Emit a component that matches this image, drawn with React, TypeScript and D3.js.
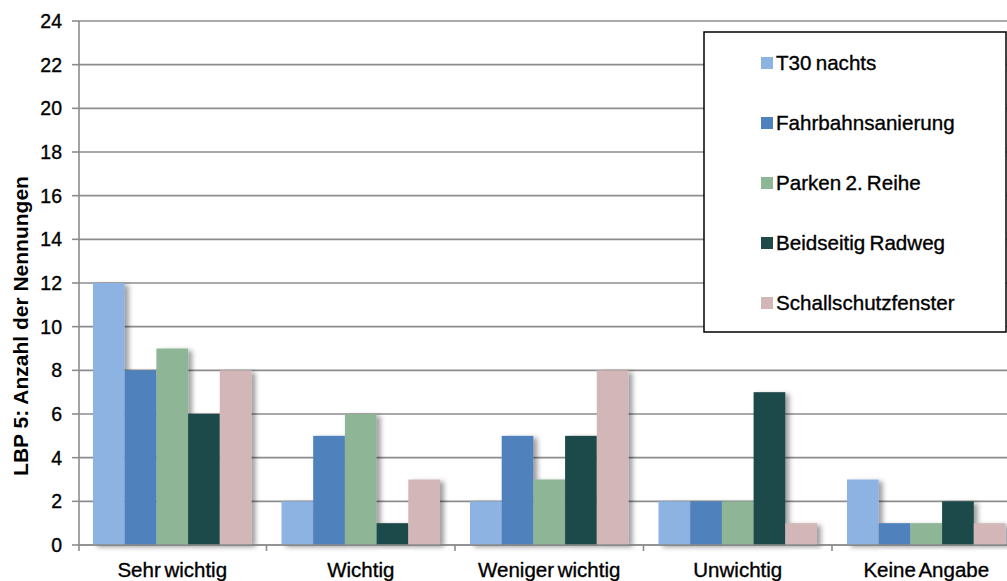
import React from "react";
import * as d3 from "d3";

const categories = ["Sehr wichtig", "Wichtig", "Weniger wichtig", "Unwichtig", "Keine Angabe"];
const seriesNames = ["T30 nachts", "Fahrbahnsanierung", "Parken 2. Reihe", "Beidseitig Radweg", "Schallschutzfenster"];
const seriesColors = ["#8db3e2", "#4f81bd", "#8db596", "#1f4a48", "#d3b6b7"];
const t30 = [12, 2, 2, 2, 3];
const fahrbahn = [8, 5, 5, 2, 1];
const parken = [9, 6, 3, 2, 1];
const radweg = [6, 1, 5, 7, 2];
const schall = [8, 3, 8, 1, 1];
const seriesValues = [t30, fahrbahn, parken, radweg, schall];
const yTicks = [0, 2, 4, 6, 8, 10, 12, 14, 16, 18, 20, 22, 24];
const yTitle = "LBP 5: Anzahl der Nennungen";

const W = 1007;
const H = 581;
const left = 78;
const band = 188.5;
const top = 21;
const bottom = 545;

export default function App() {
  const x = d3.scaleBand<string>().domain(categories).range([left, left + band * categories.length]).padding(0);
  const xi = d3.scaleBand<string>().domain(seriesNames).range([15, x.bandwidth() - 15]).padding(0);
  const y = d3.scaleLinear().domain([0, 24]).range([bottom, top]);
  const font = "'Liberation Sans', Arial, sans-serif";
  const heavy = { stroke: "#000", strokeWidth: 0.35 };

  return (
    <svg width={W} height={H} style={{ position: "absolute", left: 0, top: 0, background: "#fff" }} fontFamily={font}>
      <defs>
        <filter id="sh" x="-20%" y="-10%" width="160%" height="130%">
          <feDropShadow dx="4" dy="2" stdDeviation="2.5" floodColor="#000" floodOpacity="0.38" />
        </filter>
      </defs>
      {yTicks.map((t) => (
        <line key={"g" + t} x1={left + 1} x2={W} y1={y(t)} y2={y(t)} stroke="#8c8c8c" strokeWidth={1.6} />
      ))}
      {yTicks.map((t) => (
        <g key={"t" + t}>
          <line x1={72} x2={79} y1={y(t)} y2={y(t)} stroke="#8c8c8c" strokeWidth={1.6} />
          <text x={62} y={y(t) + 7} textAnchor="end" fontSize={19.5} fill="#000" {...heavy}>
            {t}
          </text>
        </g>
      ))}
      {seriesValues.map((vals, si) =>
        vals.map((v, ci) => (
          <rect
            key={si + "-" + ci}
            x={(x(categories[ci]) as number) + (xi(seriesNames[si]) as number)}
            y={y(v)}
            width={xi.bandwidth()}
            height={y(0) - y(v)}
            fill={seriesColors[si]}
            filter="url(#sh)"
          />
        ))
      )}
      <line x1={79} x2={79} y1={top} y2={bottom + 6} stroke="#8c8c8c" strokeWidth={1.6} />
      <line x1={left} x2={W} y1={bottom} y2={bottom} stroke="#8c8c8c" strokeWidth={1.6} />
      {categories.map((c, i) =>
        i > 0 ? (
          <line key={"xt" + c} x1={x(c) as number} x2={x(c) as number} y1={bottom} y2={bottom + 6} stroke="#8c8c8c" strokeWidth={1.6} />
        ) : null
      )}
      {categories.map((c) => (
        <text key={"xl" + c} x={(x(c) as number) + x.bandwidth() / 2} y={577} textAnchor="middle" fontSize={20.5} wordSpacing={-2} fill="#000" {...heavy}>
          {c}
        </text>
      ))}
      <text transform={`translate(28,${(172 + 480) / 2}) rotate(-90)`} textAnchor="middle" fontSize={21} fontWeight="bold" fill="#000">
        {yTitle}
      </text>
      <rect x={704} y={32} width={302} height={300} fill="#fff" stroke="#000" strokeWidth={1.5} />
      {seriesNames.map((s, i) => (
        <g key={"lg" + s}>
          <rect x={761} y={57 + i * 60} width={12} height={12} fill={seriesColors[i]} />
          <text x={776} y={70 + i * 60} fontSize={20.6} wordSpacing={-1.5} fill="#000" {...heavy}>
            {s}
          </text>
        </g>
      ))}
    </svg>
  );
}
